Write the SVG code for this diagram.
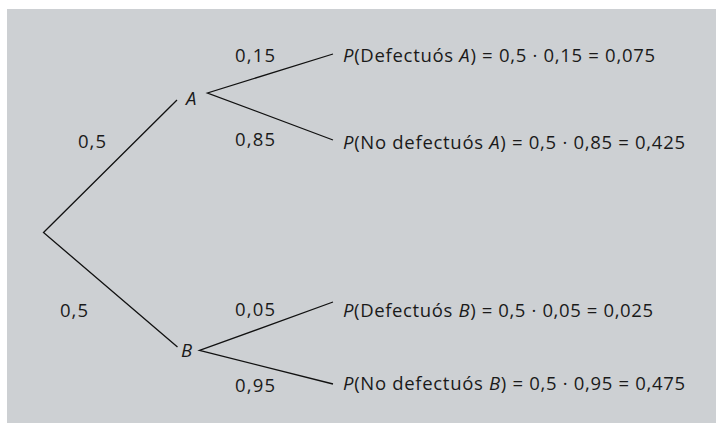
<svg xmlns="http://www.w3.org/2000/svg" width="716" height="423" viewBox="0 0 716 423">
  <style>
    .t { font-family: "Open Sans", "Noto Sans", "Liberation Sans", sans-serif; font-size: 18.5px; fill: #1a1a1a; }
    .i { font-style: italic; }
    .edge { stroke: #111; stroke-width: 1.3; fill: none; }
  </style>
  <rect x="0" y="0" width="716" height="423" fill="#ffffff"/>
  <rect x="7" y="9" width="709" height="414" fill="#cdd0d3"/>

  <!-- branches of the tree -->
  <g id="connectors">
    <polyline class="edge" points="177,100 43.5,232.5 177.5,347"/>
    <polyline class="edge" points="333,54 207.5,93 333,140"/>
    <polyline class="edge" points="333,302 199.5,350.5 333,384"/>
  </g>

  <g id="root-labels">
    <text class="t" x="78" y="148" textLength="28" lengthAdjust="spacing">0,5</text>
    <text class="t" x="60" y="317" textLength="28" lengthAdjust="spacing">0,5</text>
  </g>

  <g id="node-A">
    <text class="t i" x="186" y="105">A</text>
    <text class="t" x="235" y="62" textLength="40" lengthAdjust="spacing">0,15</text>
    <text class="t" x="235" y="146" textLength="40" lengthAdjust="spacing">0,85</text>
  </g>

  <g id="node-B">
    <text class="t i" x="181" y="357">B</text>
    <text class="t" x="235" y="316" textLength="40" lengthAdjust="spacing">0,05</text>
    <text class="t" x="235" y="392" textLength="40" lengthAdjust="spacing">0,95</text>
  </g>

  <g id="leaf-A-def">
    <text class="t" x="343" y="62" textLength="312" lengthAdjust="spacing"><tspan class="i">P</tspan>(Defectuós <tspan class="i">A</tspan>) = 0,5 · 0,15 = 0,075</text>
  </g>
  <g id="leaf-A-ok">
    <text class="t" x="343" y="149" textLength="342" lengthAdjust="spacing"><tspan class="i">P</tspan>(No defectuós <tspan class="i">A</tspan>) = 0,5 · 0,85 = 0,425</text>
  </g>
  <g id="leaf-B-def">
    <text class="t" x="343" y="317" textLength="310" lengthAdjust="spacing"><tspan class="i">P</tspan>(Defectuós <tspan class="i">B</tspan>) = 0,5 · 0,05 = 0,025</text>
  </g>
  <g id="leaf-B-ok">
    <text class="t" x="343" y="390" textLength="342" lengthAdjust="spacing"><tspan class="i">P</tspan>(No defectuós <tspan class="i">B</tspan>) = 0,5 · 0,95 = 0,475</text>
  </g>
</svg>
